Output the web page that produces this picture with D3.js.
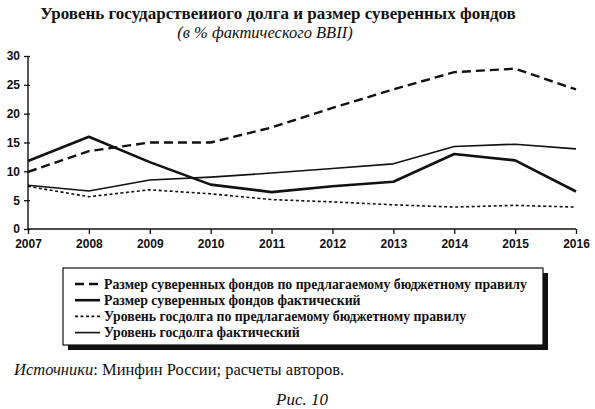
<!DOCTYPE html>
<html>
<head>
<meta charset="utf-8">
<style>
  body { margin: 0; background: #fff; }
  svg text { fill: #111; }
</style>
<script src="https://d3js.org/d3.v7.min.js"></script>
</head>
<body>
<div id="chart"></div>
<script>
// данные
const years = [2007, 2008, 2009, 2010, 2011, 2012, 2013, 2014, 2015, 2016];
const fundsRule = [9.9, 13.5, 15.0, 15.0, 17.6, 21.0, 24.2, 27.2, 27.8, 24.2];
const fundsFact = [11.8, 16.0, 11.6, 7.7, 6.4, 7.4, 8.2, 13.0, 11.9, 6.5];
const debtRule = [7.4, 5.6, 6.8, 6.1, 5.1, 4.7, 4.2, 3.8, 4.1, 3.8];
const debtFact = [7.6, 6.6, 8.5, 9.0, 9.7, 10.5, 11.3, 14.3, 14.7, 13.9];
const yTicks = [0, 5, 10, 15, 20, 25, 30];

const series = [
  { name: "Размер суверенных фондов по предлагаемому бюджетному правилу", values: fundsRule, width: 2.4, dash: "9,5" },
  { name: "Размер суверенных фондов фактический", values: fundsFact, width: 2.6, dash: null },
  { name: "Уровень госдолга по предлагаемому бюджетному правилу", values: debtRule, width: 1.6, dash: "3,2.5" },
  { name: "Уровень госдолга фактический", values: debtFact, width: 1.6, dash: null }
];

const W = 595, H = 409;
const svg = d3.select("#chart").append("svg")
  .attr("width", W).attr("height", H)
  .attr("viewBox", [0, 0, W, H]);

const x = d3.scaleLinear().domain([2007, 2016]).range([28, 576]);
const y = d3.scaleLinear().domain([0, 30]).range([229, 56]);

// заголовок
svg.append("text")
  .attr("x", 278).attr("y", 19)
  .attr("text-anchor", "middle")
  .style("font", "bold 17px 'Liberation Serif', serif")
  .text("Уровень государствеииого долга и размер суверенных фондов");
svg.append("text")
  .attr("x", 265).attr("y", 38)
  .attr("text-anchor", "middle")
  .style("font", "italic 16.5px 'Liberation Serif', serif")
  .text("(в % фактического ВВII)");

// оси
const xAxis = d3.axisBottom(x).tickValues(years).tickFormat(d3.format("d")).tickSize(5).tickPadding(5);
const yAxis = d3.axisLeft(y).tickValues(yTicks).tickSize(4).tickPadding(4);

const gx = svg.append("g").attr("transform", `translate(0,${y(0)})`).call(xAxis);
const gy = svg.append("g").attr("transform", `translate(${x(2007)},0)`).call(yAxis);

[gx, gy].forEach(g => {
  g.select(".domain").attr("stroke", "#111").attr("stroke-width", 1.4);
  g.selectAll(".tick line").attr("stroke", "#111").attr("stroke-width", 1.3);
  g.selectAll(".tick text")
    .style("font", "bold 12px 'Liberation Sans', sans-serif")
    .attr("fill", "#111");
});
gx.select(".domain").attr("d", `M${x(2007)},0H${x(2016)}`);
gy.select(".domain").attr("d", `M0,${y(0)}V${y(30)}`);
gy.selectAll(".tick line").attr("x2", -4).attr("x1", 2);

// линии
const line = d3.line()
  .x((d, i) => x(years[i]))
  .y(d => y(d));

svg.append("g")
  .selectAll("path")
  .data(series)
  .join("path")
  .attr("d", d => line(d.values))
  .attr("fill", "none")
  .attr("stroke", "#111")
  .attr("stroke-width", d => d.width)
  .attr("stroke-dasharray", d => d.dash)
  .attr("stroke-linejoin", "round");

// легенда с тенью
const lg = svg.append("g");
lg.append("rect")
  .attr("x", 68).attr("y", 273).attr("width", 480).attr("height", 77)
  .attr("fill", "#111");
lg.append("rect")
  .attr("x", 63).attr("y", 268).attr("width", 480).attr("height", 77)
  .attr("fill", "#fff").attr("stroke", "#111").attr("stroke-width", 1.2);

const rows = lg.selectAll("g.row")
  .data(series)
  .join("g")
  .attr("class", "row")
  .attr("transform", (d, i) => `translate(0,${284 + i * 16.2})`);
rows.append("line")
  .attr("x1", 75).attr("x2", 100)
  .attr("stroke", "#111")
  .attr("stroke-width", d => d.width)
  .attr("stroke-dasharray", d => d.dash);
rows.append("text")
  .attr("x", 104).attr("y", 4.5)
  .style("font", "bold 13.8px 'Liberation Serif', serif")
  .text(d => d.name);

// источник и подпись
const src = svg.append("text")
  .attr("x", 14).attr("y", 375)
  .style("font", "16.5px 'Liberation Serif', serif");
src.append("tspan").style("font-style", "italic").text("Источники");
src.append("tspan").text(": Минфин России; расчеты авторов.");

svg.append("text")
  .attr("x", 302).attr("y", 405)
  .attr("text-anchor", "middle")
  .style("font", "italic 17px 'Liberation Serif', serif")
  .text("Рис. 10");
</script>
</body>
</html>
